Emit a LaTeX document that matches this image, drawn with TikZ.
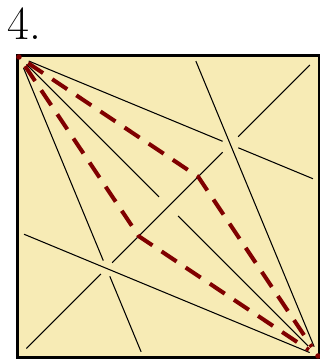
\documentclass[tikz,border=0pt]{standalone}
\usepackage{tikz}
\usetikzlibrary{calc}
\definecolor{paper}{RGB}{247,235,181}
\definecolor{foldred}{RGB}{128,0,0}
\tikzset{crease/.style={line width=0.6pt, black},
  fold/.style={line width=2.3pt, foldred, dash pattern=on 3.6mm off 2.2mm},
  cdot/.style={fill=foldred}}

\begin{document}
\begin{tikzpicture}[x=5.98cm, y=5.98cm]
  \useasboundingbox (-0.0635,-0.0134) rectangle (1.0067,1.1906);
  % paper square
  \fill[paper] (0,0) rectangle (1,1);
  \draw[line width=1.7pt] (-0.005,-0.005) rectangle (1.005,1.005);
  % reference points
  \pgfmathsetmacro\tg{tan(22.5)}
  \pgfmathsetmacro\mi{\tg/(1+\tg)}
  \pgfmathsetmacro\pk{1/(1+tan(33.75))}
  \coordinate (tl) at (0,1);
  \coordinate (tr) at (1,1);
  \coordinate (bl) at (0,0);
  \coordinate (br) at (1,0);
  \coordinate (e1) at (1,{1-\tg});
  \coordinate (e2) at ({\tg},0);
  \coordinate (e3) at (0,{\tg});
  \coordinate (e4) at ({1-\tg},1);
  \coordinate (m1) at (\mi,\mi);
  \coordinate (m2) at ({1-\mi},{1-\mi});
  \coordinate (c) at (0.5,0.5);
  \coordinate (p) at (\pk,\pk);
  \coordinate (q) at ({1-\pk},{1-\pk});
  % creases (broken where they cross)
  \draw[crease, shorten <=2.1mm, shorten >=1.7mm] (tl) -- (m2);
  \draw[crease, shorten <=1.7mm, shorten >=1.1mm] (m2) -- (e1);
  \draw[crease, shorten <=2.4mm, shorten >=1.7mm] (tl) -- (m1);
  \draw[crease, shorten <=1.7mm, shorten >=0.9mm] (m1) -- (e2);
  \draw[crease, shorten <=1.1mm, shorten >=1.8mm] (e3) -- (br);
  \draw[crease, shorten <=0.9mm, shorten >=2.0mm] (e4) -- (br);
  \draw[crease, shorten <=2.1mm, shorten >=1.6mm] (bl) -- (m1);
  \draw[crease, shorten <=1.6mm, shorten >=2.2mm] (m1) -- (m2);
  \draw[crease, shorten <=2.2mm, shorten >=2.3mm] (m2) -- (tr);
  \draw[crease, shorten <=2.1mm, shorten >=2.7mm] (tl) -- (c);
  \draw[crease, shorten <=2.7mm, shorten >=2.8mm] (c) -- (br);
  % valley folds
  \draw[fold, shorten <=2.2mm, shorten >=2.2mm] (tl) -- (q) -- (br);
  \draw[fold, shorten <=2.2mm, shorten >=2.2mm] (tl) -- (p) -- (br);
  % corners
  \fill[cdot] (tl) circle (0.055cm);
  \fill[cdot] (br) circle (0.055cm);
  % step number
  \node[anchor=base west, inner sep=0pt, font=\fontsize{27}{30}\selectfont] (num) at (-0.04,1.057) {4.};
\end{tikzpicture}
\end{document}
